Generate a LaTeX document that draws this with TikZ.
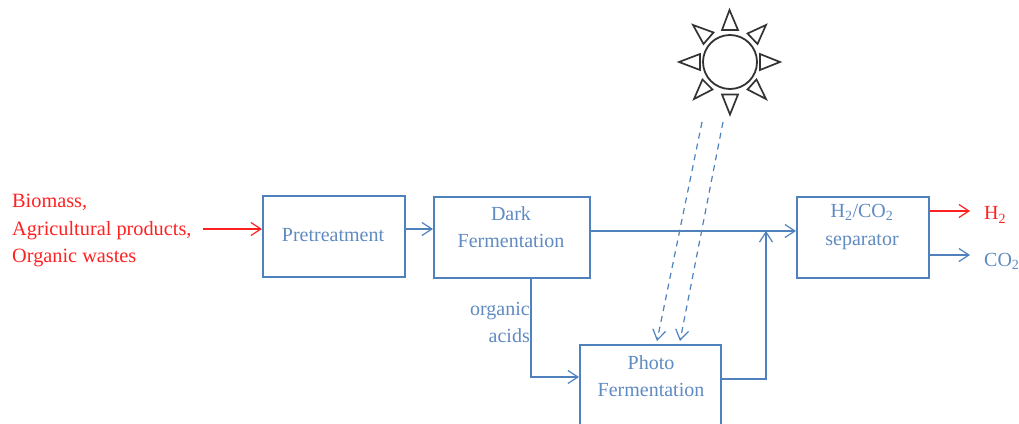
\documentclass[tikz,border=0pt]{standalone}
\usepackage{fontspec}
\setmainfont{Liberation Serif}
\usetikzlibrary{arrows.meta}
\definecolor{bl}{HTML}{4F81BD}
\definecolor{txt}{HTML}{5F8AC2}
\definecolor{rd}{HTML}{FF2020}
\tikzset{
  procbox/.style={draw=bl,line width=2pt,inner sep=0pt,anchor=north west},
  conn/.style={draw=bl,line width=1.1pt,-{Straight Barb[length=10pt,width=13pt,line width=1.2pt]}},
  redconn/.style={conn,draw=rd},
  dashconn/.style={conn,line width=1.2pt,dash pattern=on 6pt off 5pt},
  ray/.style={draw=black!80,line width=1.7pt,line join=miter},
  lab/.style={inner sep=0pt,font=\fontsize{20}{27.5}\selectfont,text=txt,align=center},
  redlab/.style={inner sep=0pt,anchor=north west,align=left,text=rd,font=\fontsize{20.3}{27.5}\selectfont}
}
\begin{document}
\begin{tikzpicture}[x=1pt,y=-1pt]
\useasboundingbox (0,0) rectangle (1019,423);
\clip (0,0) rectangle (1019,423);
% boxes
\node[procbox,minimum width=142pt,minimum height=81pt] (pre) at (262,194.5) {};
\node[procbox,minimum width=156pt,minimum height=81pt] (dark) at (433,195.5) {};
\node[procbox,minimum width=132pt,minimum height=81pt] (sep) at (796,195.5) {};
\node[procbox,minimum width=141pt,minimum height=90pt] (photo) at (579,343.5) {};
% box texts
\node[lab] (pretext) at (333,235) {Pretreatment};
\node[lab] (darktext) at (511,227) {Dark\\Fermentation};
\node[lab] (septext) at (862,227) {H\textsubscript{2}/CO\textsubscript{2}\\separator};
\node[lab] (phototext) at (651,376) {Photo\\Fermentation};
% labels
\node[redlab] (feed) at (12,194) {Biomass,\\Agricultural products,\\Organic wastes};
\node[lab,anchor=north east,align=right] (oa) at (530,302) {organic\\acids};
\node[inner sep=0pt,anchor=west,text=rd,font=\fontsize{20}{22}\selectfont] (h2) at (984,215) {H\textsubscript{2}};
\node[inner sep=0pt,anchor=west,text=txt,font=\fontsize{20}{22}\selectfont] (co2) at (984,261) {CO\textsubscript{2}};
% free ends
\coordinate (feedend) at (203,229);
\coordinate (h2end) at (970,211);
\coordinate (co2end) at (970,255);
\coordinate (ray1) at (702,122);
\coordinate (ray2) at (723,122);
\coordinate (photoin1) at (657,341);
\coordinate (photoin2) at (680,341);
% connectors
\draw[redconn] (feedend) -- (feedend -| pre.west);
\draw[conn] (pre.east |- 0,229) -- (dark.west |- 0,229);
\draw[conn] (dark.east |- 0,231) -- (sep.west |- 0,231);
\draw[conn] (dark.south -| 531,0) -- (531,377) -- (photo.west |- 0,377);
\draw[conn] (photo.east |- 0,379) -- (766,379) -- (766,231);
\draw[redconn] (sep.east |- 0,211) -- (h2end);
\draw[conn] (sep.east |- 0,255) -- (co2end);
\draw[dashconn] (ray1) -- (photoin1);
\draw[dashconn] (ray2) -- (photoin2);
% sun
\node[circle,draw=black!80,line width=1.8pt,minimum size=54pt,inner sep=0pt] (sun) at (730,62) {};
\draw[ray] (729.5,10) -- (722,30) -- (738,30) -- cycle;
\draw[ray] (780,62) -- (760,54) -- (760,70) -- cycle;
\draw[ray] (730,114.5) -- (722,94.5) -- (738,94.5) -- cycle;
\draw[ray] (679,62) -- (700,54) -- (700,70) -- cycle;
\draw[ray] (766,25) -- (747.5,33.5) -- (757.5,44) -- cycle;
\draw[ray] (693,25) -- (713.5,32.5) -- (703.5,44) -- cycle;
\draw[ray] (766,99) -- (747.5,89.5) -- (756.5,79.5) -- cycle;
\draw[ray] (694,99) -- (712.5,89.5) -- (702.5,79.5) -- cycle;
\end{tikzpicture}
\end{document}
